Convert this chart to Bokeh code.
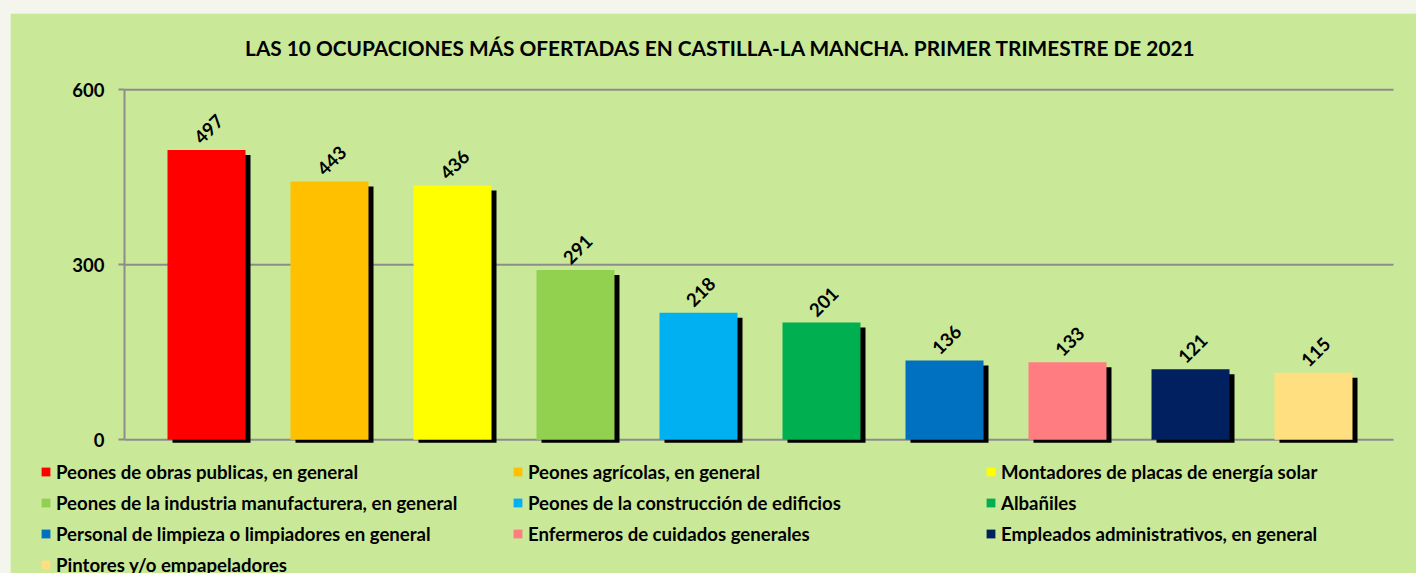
from bokeh.plotting import figure
from bokeh.models import (ColumnDataSource, FixedTicker, Range1d, Legend, LegendItem,
                          Div, LinearAxis, Label)
from bokeh.layouts import column, row
from bokeh.transform import dodge
from bokeh.core.properties import value
from bokeh.embed import file_html
from bokeh.resources import INLINE
import math

# ---- data ----
ocupaciones = [
    "Peones de obras publicas, en general",
    "Peones agrícolas, en general",
    "Montadores de placas de energía solar",
    "Peones de la industria manufacturera, en general",
    "Peones de la construcción de edificios",
    "Albañiles",
    "Personal de limpieza o limpiadores en general",
    "Enfermeros de cuidados generales",
    "Empleados administrativos, en general",
    "Pintores y/o empapeladores",
]
ofertas = [497, 443, 436, 291, 218, 201, 136, 133, 121, 115]
colores = ["#FF0000", "#FFC000", "#FFFF00", "#92D050", "#00B0F0",
           "#00B050", "#0070C0", "#FF7C80", "#002060", "#FFDF7F"]
y_ticks = [0, 300, 600]
titulo = "LAS 10 OCUPACIONES MÁS OFERTADAS EN CASTILLA-LA MANCHA. PRIMER TRIMESTRE DE 2021"

BG = "#C9E898"
PAGE = "#F4F6EE"
GRID = "#8C8C8C"
FONT = "Lato"

# layout constants (pixels / category units)
CAT_PX = 123.0
PX_PER_UNIT = 175 / 300.0
AXIS_X = -82 / CAT_PX          # category-coordinate where value axis sits
GRID_END = 1187 / CAT_PX       # right end of gridlines
shadow_dy = 5 / PX_PER_UNIT

src = ColumnDataSource(dict(
    x=list(range(len(ofertas))),
    v=ofertas,
    label=[str(o) for o in ofertas],
    color=colores,
    name=ocupaciones,
    shadow_top=[o - shadow_dy for o in ofertas],
))

W, H = 1406, 560
p = figure(width=W, height=H, output_backend="svg", toolbar_location=None,
           x_axis_type=None, y_axis_type=None,
           x_range=Range1d(-196 / CAT_PX, 1210 / CAT_PX),
           y_range=Range1d(-133.7 / PX_PER_UNIT, 426.3 / PX_PER_UNIT),
           min_border_left=0, min_border_right=0, min_border_top=0,
           min_border_bottom=0, frame_width=W, frame_height=H)
p.background_fill_color = BG
p.border_fill_color = BG
p.outline_line_color = None
p.xgrid.visible = False
p.ygrid.visible = False

# gridlines (at the value ticks)
grid_src = ColumnDataSource(dict(y=y_ticks))
p.segment(x0=AXIS_X, x1=GRID_END, y0="y", y1="y", source=grid_src,
          line_color=GRID, line_width=2)

# value axis
ya = LinearAxis(fixed_location=AXIS_X, ticker=FixedTicker(ticks=y_ticks), bounds=(0, 600))
ya.axis_line_color = GRID
ya.axis_line_width = 2
ya.major_tick_line_color = GRID
ya.major_tick_line_width = 2
ya.major_tick_out = 6
ya.major_tick_in = 0
ya.minor_tick_line_color = None
ya.major_label_standoff = 14
ya.major_label_text_font = FONT
ya.major_label_text_font_size = "18.5px"
ya.major_label_text_font_style = "bold"
ya.major_label_text_color = "black"
p.add_layout(ya, "left")

bar_w = 78 / CAT_PX
# shadows
p.vbar(x=dodge("x", 5 / CAT_PX), top="shadow_top", bottom=-5.2, width=bar_w,
       fill_color="black", line_color=None, source=src)
# bars
bars = p.vbar(x="x", top="v", bottom=0, width=bar_w, fill_color="color",
              line_color=None, source=src)
# value labels
p.text(x="x", y="v", text="label", source=src, angle=math.pi / 4,
       text_align="center", text_baseline="middle", y_offset=-21, x_offset=2,
       text_font=value(FONT), text_font_size="18.5px", text_font_style="bold",
       text_color="black")

# title
p.add_layout(Label(x=710, y=H + 13 - 47, x_units="screen", y_units="screen",
                   text=titulo, text_align="center", text_baseline="middle",
                   text_font=FONT, text_font_size="20.8px", text_font_style="bold",
                   text_color="black"))

# legend: 3 columns
cols = [[0, 3, 6, 9], [1, 4, 7], [2, 5, 8]]
xs = [30, 502, 975]
item_h, spacing = 23, 8
for col, lx in zip(cols, xs):
    n = len(col)
    h = n * item_h + (n - 1) * spacing
    top = 460 - 13
    ly = H - (top + h)
    lg = Legend(items=[LegendItem(label=ocupaciones[i], renderers=[bars], index=i)
                       for i in col],
                location=(lx, ly), orientation="vertical",
                glyph_width=11, glyph_height=11, label_standoff=5,
                label_height=item_h, spacing=spacing, padding=0, margin=0,
                label_text_font=FONT, label_text_font_size="18.6px",
                label_text_font_style="bold", label_text_color="black",
                background_fill_alpha=0, border_line_alpha=0)
    p.add_layout(lg, "center")

top_strip = Div(text="", width=1416, height=13, margin=0,
                styles={"background-color": PAGE})
left_strip = Div(text="", width=10, height=H, margin=0,
                 styles={"background-color": PAGE})
layout = column(top_strip, row(left_strip, p, spacing=0), spacing=0)

open("out.html", "w").write(file_html(layout, INLINE))
